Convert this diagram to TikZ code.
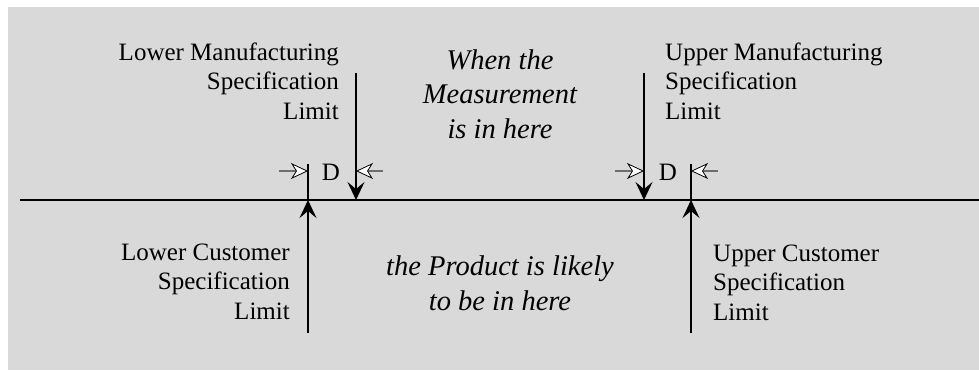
\documentclass[tikz,border=0pt]{standalone}
\usepackage{fontspec}
\setmainfont{Liberation Serif}
\usetikzlibrary{arrows.meta}
\definecolor{bggray}{HTML}{D9D9D9}
\definecolor{shaftgray}{HTML}{6E6E6E}
\tikzset{
  lbl/.style={inner sep=0pt, font=\fontsize{25}{29.5}\selectfont},
  itl/.style={inner sep=0pt, align=center, font=\fontsize{28.5}{34.5}\selectfont\itshape},
  limitline/.style={line width=1.1pt, black},
  bigtip/.style={-{Stealth[length=18pt,width=17pt,inset=7pt]}},
  dimarrow/.style={shaftgray, line width=1.2pt,
    -{Stealth[length=17pt,width=16pt,inset=5pt,color=black,fill=white,line width=0.8pt]}},
}
\begin{document}
\begin{tikzpicture}[x=1pt,y=-1pt]
\useasboundingbox (0,0) rectangle (979,370);
\fill[bggray] (8,7) rectangle (979,370);
% axis
\coordinate (axL) at (20,200);
\coordinate (axR) at (979,200);
\draw[line width=1.5pt] (axL) -- (axR);
% limit coordinates
\coordinate (lcBot) at (308,333);
\coordinate (lcAx)  at (308,200);
\coordinate (lcTop) at (308,164);
\coordinate (lmTop) at (356,73);
\coordinate (lmAx)  at (356,200);
\coordinate (umTop) at (644,73);
\coordinate (umAx)  at (644,200);
\coordinate (ucBot) at (691,333);
\coordinate (ucAx)  at (691,200);
\coordinate (ucTop) at (691,164);
% limit lines
\draw[limitline,bigtip] (lcBot) -- (lcAx);
\draw[limitline] (lcAx) -- (lcTop);
\draw[limitline,bigtip] (lmTop) -- (lmAx);
\draw[limitline,bigtip] (umTop) -- (umAx);
\draw[limitline,bigtip] (ucBot) -- (ucAx);
\draw[limitline] (ucAx) -- (ucTop);
% D dimension arrows
\coordinate (dl1) at (279,171);
\coordinate (dl1t) at (308,171);
\coordinate (dl2) at (383,171);
\coordinate (dl2t) at (356,171);
\coordinate (du1) at (615,171);
\coordinate (du1t) at (644,171);
\coordinate (du2) at (718,171);
\coordinate (du2t) at (691,171);
\draw[dimarrow] (dl1) -- (dl1t);
\draw[dimarrow] (dl2) -- (dl2t);
\draw[dimarrow] (du1) -- (du1t);
\draw[dimarrow] (du2) -- (du2t);
\node[lbl, anchor=base] (dlow) at (331,180) {D};
\node[lbl, anchor=base] (dup) at (668,180) {D};
% labels (base anchor = baseline of last line)
\node[lbl, align=right, anchor=base east] (lmLabel) at (339,119) {Lower Manufacturing\\Specification\\Limit};
\node[lbl, align=left, anchor=base west] (umLabel) at (665,119) {Upper Manufacturing\\Specification\\Limit};
\node[lbl, align=right, anchor=base east] (lcLabel) at (290,319) {Lower Customer\\Specification\\Limit};
\node[lbl, align=left, anchor=base west] (ucLabel) at (713,320) {Upper Customer\\Specification\\Limit};
\node[itl, anchor=base] (meas) at (500,138) {When the\\Measurement\\is in here};
\node[itl, anchor=base] (prod) at (500,310) {the Product is likely\\to be in here};
\end{tikzpicture}
\end{document}
